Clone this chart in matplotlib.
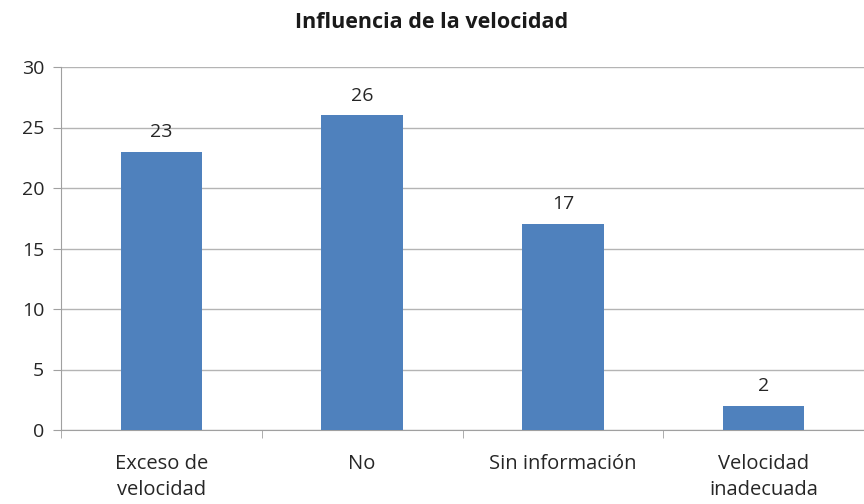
import matplotlib.pyplot as plt

categorias = ['Exceso de\nvelocidad', 'No', 'Sin información', 'Velocidad\ninadecuada']
valores = [23, 26, 17, 2]
yticks = [0, 5, 10, 15, 20, 25, 30]

plt.rcParams['font.family'] = ['Open Sans', 'DejaVu Sans']

fig = plt.figure(figsize=(8.64, 5.04), dpi=100)
ax = fig.add_axes([61 / 864, 74 / 504, 803 / 864, 363 / 504])

x = range(len(categorias))
bars = ax.bar(x, valores, width=0.405, color='#4F81BD', zorder=3)

for xi, v in zip(x, valores):
    ax.text(xi, v + 0.9, str(v), ha='center', va='bottom', fontsize=14, color='#262626')

ax.set_xlim(-0.5, 3.5)
ax.set_ylim(0, 30)
ax.set_yticks(yticks)
ax.yaxis.grid(True, color='#b4b4b4', linewidth=1.0, zorder=0)

ax.set_xticks(list(x))
ax.set_xticklabels(categorias, fontsize=14.5, color='#262626', linespacing=1.45)
ax.set_xticks([-0.5, 0.5, 1.5, 2.5, 3.5], minor=True)
ax.tick_params(axis='x', which='major', length=0, pad=17)
ax.tick_params(axis='x', which='minor', length=6, color='#a0a0a0', direction='out')
ax.tick_params(axis='y', length=6, color='#a0a0a0', labelsize=14, labelcolor='#262626', pad=6)

for s in ['top', 'right']:
    ax.spines[s].set_visible(False)
ax.spines['left'].set_color('#a0a0a0')
ax.spines['bottom'].set_color('#a0a0a0')

fig.text(0.5, 1 - 22 / 504, 'Influencia de la velocidad', ha='center', va='center',
         fontsize=15.5, fontweight='bold', color='#1a1a1a')

fig.savefig('out.png', dpi=100)
